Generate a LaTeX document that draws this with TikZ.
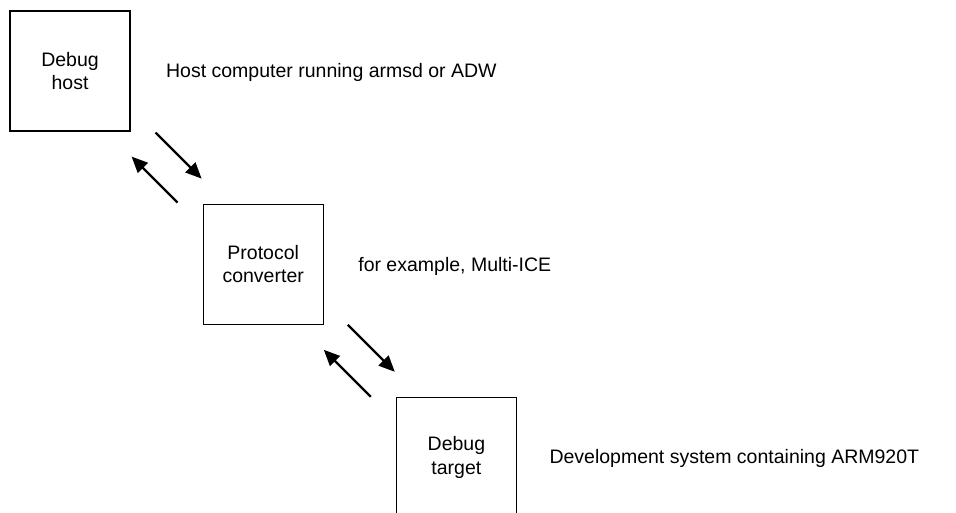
\documentclass[tikz,border=0pt]{standalone}
\usepackage{fontspec}
\setmainfont{Liberation Sans}
\usetikzlibrary{arrows.meta,calc,positioning}

\begin{document}
\begin{tikzpicture}[x=1pt,y=-1pt,
    box/.style={draw,line width=1.2pt,minimum width=120pt,minimum height=120pt,
        align=center,inner sep=0pt,font=\fontsize{19.5}{23.5}\selectfont},
    note/.style={font=\fontsize{19.5}{23.5}\selectfont},
    flow/.style={line width=2.2pt,-{Triangle[length=16pt,width=14pt]}}
]
\clip (0,0) rectangle (956,513);

% Boxes
\node[box] (host) at (70,71) {Debug\\host};
\node[box,below right=72pt and 72pt of host] (conv) {Protocol\\converter};
\node[box,below right=72pt and 72pt of conv] (target) {Debug\\target};

% Notes
\node[note,right=32pt of host,yshift=-1pt] (hostnote) {Host computer running armsd or ADW};
\node[note,right=31pt of conv,yshift=-2pt] (convnote) {for example, Multi-ICE};
\node[note,right=29pt of target,yshift=-1pt] (targetnote) {Development system containing ARM920T};

% Arrows
\draw[flow] ($(host.south east)+(25,1)$) -- ($(conv.north west)+(-1,-25)$);
\draw[flow] ($(conv.north west)+(-25,-1)$) -- ($(host.south east)+(1,25)$);
\draw[flow] ($(conv.south east)+(24,0)$) -- ($(target.north west)+(-1,-25)$);
\draw[flow] ($(target.north west)+(-25,0)$) -- ($(conv.south east)+(0,25)$);

\end{tikzpicture}
\end{document}
